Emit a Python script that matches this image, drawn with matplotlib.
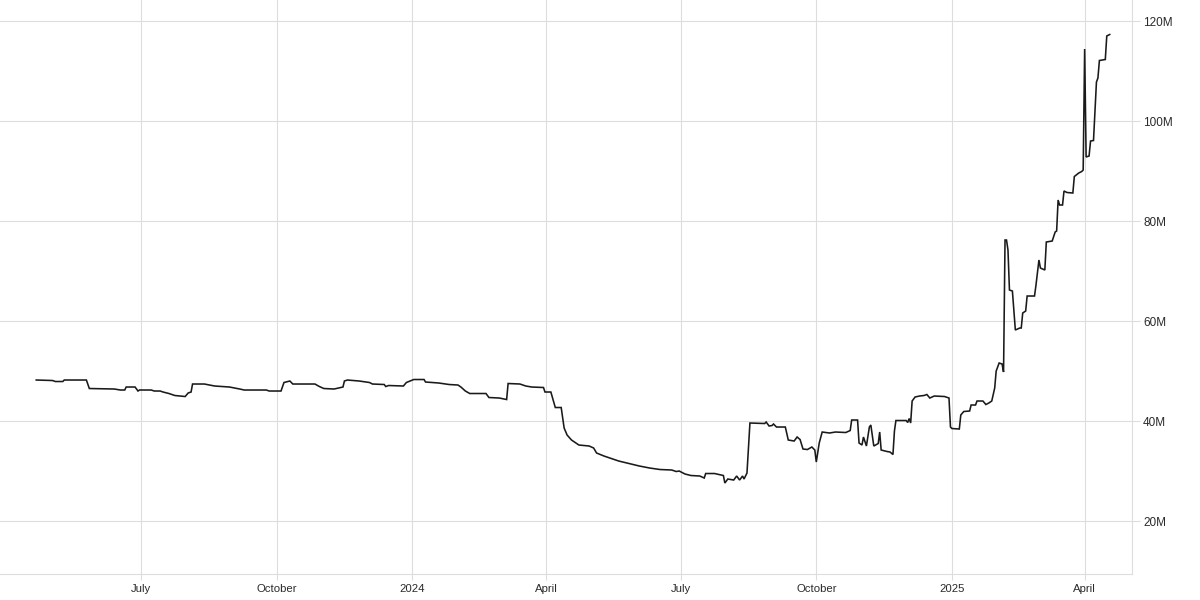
import datetime as dt
import matplotlib
matplotlib.use('Agg')
import matplotlib.pyplot as plt
import matplotlib.dates as mdates
import matplotlib.ticker as tck

# values (millions)
dates = [
    '2023-04-21', '2023-05-02', '2023-05-04', '2023-05-09', '2023-05-10', '2023-05-25', '2023-05-27',
    '2023-06-13', '2023-06-17', '2023-06-20', '2023-06-21', '2023-06-27', '2023-06-29', '2023-06-30',
    '2023-07-08', '2023-07-10', '2023-07-14', '2023-07-16', '2023-07-20', '2023-07-24', '2023-07-31',
    '2023-08-02', '2023-08-04', '2023-08-05', '2023-08-13', '2023-08-20', '2023-08-30', '2023-09-06',
    '2023-09-09', '2023-09-24', '2023-09-26', '2023-10-04', '2023-10-06', '2023-10-10', '2023-10-12',
    '2023-10-27', '2023-10-30', '2023-11-02', '2023-11-09', '2023-11-15', '2023-11-16', '2023-11-18',
    '2023-11-26', '2023-12-03', '2023-12-05', '2023-12-13', '2023-12-14', '2023-12-16', '2023-12-26',
    '2023-12-28', '2024-01-02', '2024-01-09', '2024-01-10', '2024-01-19', '2024-01-26', '2024-02-01',
    '2024-02-03', '2024-02-06', '2024-02-09', '2024-02-20', '2024-02-22', '2024-02-29', '2024-03-05',
    '2024-03-06', '2024-03-14', '2024-03-18', '2024-03-22', '2024-03-30', '2024-03-31', '2024-04-04',
    '2024-04-07', '2024-04-11', '2024-04-13', '2024-04-15', '2024-04-18', '2024-04-21', '2024-04-23',
    '2024-04-30', '2024-05-03', '2024-05-05', '2024-05-10', '2024-05-15', '2024-05-20', '2024-05-27',
    '2024-06-03', '2024-06-10', '2024-06-17', '2024-06-25', '2024-06-28', '2024-06-30', '2024-07-04',
    '2024-07-08', '2024-07-14', '2024-07-17', '2024-07-18', '2024-07-24', '2024-07-30', '2024-07-31',
    '2024-08-02', '2024-08-06', '2024-08-08', '2024-08-10', '2024-08-12', '2024-08-13', '2024-08-15',
    '2024-08-17', '2024-08-27', '2024-08-28', '2024-08-30', '2024-09-01', '2024-09-02', '2024-09-04',
    '2024-09-10', '2024-09-12', '2024-09-16', '2024-09-18', '2024-09-20', '2024-09-22', '2024-09-25',
    '2024-09-28', '2024-09-30', '2024-10-01', '2024-10-03', '2024-10-05', '2024-10-10', '2024-10-14',
    '2024-10-21', '2024-10-24', '2024-10-25', '2024-10-29', '2024-10-30', '2024-11-01', '2024-11-02',
    '2024-11-04', '2024-11-06', '2024-11-07', '2024-11-09', '2024-11-12', '2024-11-13', '2024-11-14',
    '2024-11-18', '2024-11-20', '2024-11-22', '2024-11-23', '2024-11-24', '2024-12-01', '2024-12-02',
    '2024-12-03', '2024-12-04', '2024-12-05', '2024-12-07', '2024-12-10', '2024-12-13', '2024-12-15',
    '2024-12-17', '2024-12-20', '2024-12-27', '2024-12-30', '2024-12-31', '2025-01-01', '2025-01-06',
    '2025-01-07', '2025-01-09', '2025-01-13', '2025-01-14', '2025-01-17', '2025-01-18', '2025-01-22',
    '2025-01-24', '2025-01-26', '2025-01-28', '2025-01-30', '2025-01-31', '2025-02-02', '2025-02-04',
    '2025-02-05', '2025-02-06', '2025-02-07', '2025-02-08', '2025-02-09', '2025-02-11', '2025-02-13',
    '2025-02-16', '2025-02-17', '2025-02-18', '2025-02-20', '2025-02-21', '2025-02-26', '2025-02-27',
    '2025-03-01', '2025-03-02', '2025-03-05', '2025-03-06', '2025-03-10', '2025-03-12', '2025-03-13',
    '2025-03-14', '2025-03-15', '2025-03-17', '2025-03-18', '2025-03-20', '2025-03-24', '2025-03-25',
    '2025-03-28', '2025-03-30', '2025-03-31', '2025-04-01', '2025-04-02', '2025-04-04', '2025-04-05',
    '2025-04-07', '2025-04-09', '2025-04-10', '2025-04-11', '2025-04-15', '2025-04-16', '2025-04-18',
]
values = [
    48.2, 48.1, 47.9, 47.9, 48.2, 48.2, 46.5,
    46.4, 46.2, 46.2, 46.8, 46.8, 46.0, 46.2,
    46.2, 46.0, 46.0, 45.8, 45.5, 45.1, 44.9,
    45.6, 45.8, 47.4, 47.4, 47.0, 46.8, 46.4,
    46.2, 46.2, 46.0, 46.0, 47.7, 48.0, 47.4,
    47.4, 46.9, 46.5, 46.4, 46.8, 48.0, 48.2,
    48.0, 47.7, 47.4, 47.3, 46.9, 47.1, 47.0,
    47.7, 48.3, 48.3, 47.8, 47.6, 47.3, 47.2,
    46.8, 46.0, 45.5, 45.5, 44.7, 44.6, 44.3,
    47.5, 47.4, 47.0, 46.8, 46.7, 45.8, 45.8,
    42.7, 42.7, 38.6, 37.2, 36.2, 35.6, 35.2,
    35.0, 34.6, 33.6, 33.0, 32.5, 32.0, 31.5,
    31.0, 30.6, 30.3, 30.2, 29.9, 30.0, 29.4,
    29.1, 29.0, 28.6, 29.5, 29.5, 29.1, 27.6,
    28.4, 28.2, 29.0, 28.2, 29.0, 28.4, 29.6,
    39.6, 39.5, 39.8, 39.0, 39.1, 39.4, 38.8,
    38.8, 36.2, 36.0, 36.8, 36.3, 34.4, 34.3,
    34.8, 34.2, 31.8, 35.6, 37.8, 37.6, 37.8,
    37.7, 38.1, 40.2, 40.2, 35.6, 35.2, 36.8,
    35.0, 38.8, 39.2, 35.0, 35.5, 37.8, 34.2,
    33.9, 33.8, 33.3, 38.0, 40.1, 40.1, 39.7,
    40.5, 39.6, 44.0, 44.8, 45.0, 45.1, 45.3,
    44.6, 45.0, 44.9, 44.6, 38.8, 38.5, 38.4,
    41.2, 41.9, 42.0, 43.2, 43.2, 44.0, 44.0,
    43.3, 43.6, 44.0, 46.6, 50.0, 51.6, 51.4,
    49.8, 76.2, 76.2, 74.2, 66.2, 66.0, 58.2,
    58.6, 58.6, 61.6, 62.0, 65.0, 65.0, 67.2,
    72.2, 70.6, 70.2, 75.8, 76.0, 77.8, 78.0,
    84.2, 83.2, 83.2, 86.0, 85.7, 85.6, 88.9,
    89.6, 89.9, 90.2, 114.4, 92.8, 93.0, 96.0,
    96.1, 107.8, 108.6, 112.1, 112.3, 117.0, 117.3,
]
y_ticks = [20, 40, 60, 80, 100, 120]
x_ticks = ['2023-07-01', '2023-10-01', '2024-01-01', '2024-04-01',
           '2024-07-01', '2024-10-01', '2025-01-01', '2025-04-01']
x_labels = ['July', 'October', '2024', 'April', 'July', 'October', '2025', 'April']

plt.rcParams['font.family'] = ['Liberation Sans', 'DejaVu Sans']
grid_col = '#dddddd'
txt_col = '#2b2b2b'

xs = [dt.datetime.strptime(d, '%Y-%m-%d') for d in dates]
xt = [dt.datetime.strptime(d, '%Y-%m-%d') for d in x_ticks]

fig = plt.figure(figsize=(12, 6), dpi=100)
ax = fig.add_axes([0.0, 0.0433, 0.9433, 0.9567])

ax.plot(xs, values, color='#1a1a1a', lw=1.15, solid_joinstyle='miter')

ax.set_xlim(dt.datetime(2023, 3, 27, 10), dt.datetime(2025, 5, 3, 2))
ax.set_ylim(9.4, 124.2)

ax.set_xticks(xt)
ax.set_xticklabels(x_labels)
ax.set_yticks(y_ticks)
ax.yaxis.set_major_formatter(tck.FuncFormatter(lambda v, p: '%dM' % v))
ax.yaxis.tick_right()

ax.grid(True, color=grid_col, lw=0.8)
ax.set_axisbelow(True)
for s in ['left', 'top']:
    ax.spines[s].set_visible(False)
for s in ['bottom', 'right']:
    ax.spines[s].set_color(grid_col)
    ax.spines[s].set_linewidth(0.8)

ax.tick_params(axis='x', length=4, width=0.8, color=grid_col, labelcolor=txt_col,
               labelsize=8.2, pad=3)
ax.tick_params(axis='y', length=6, width=0.8, color=grid_col, labelcolor=txt_col,
               labelsize=8.5, pad=2)

fig.savefig('out.png', dpi=100)
